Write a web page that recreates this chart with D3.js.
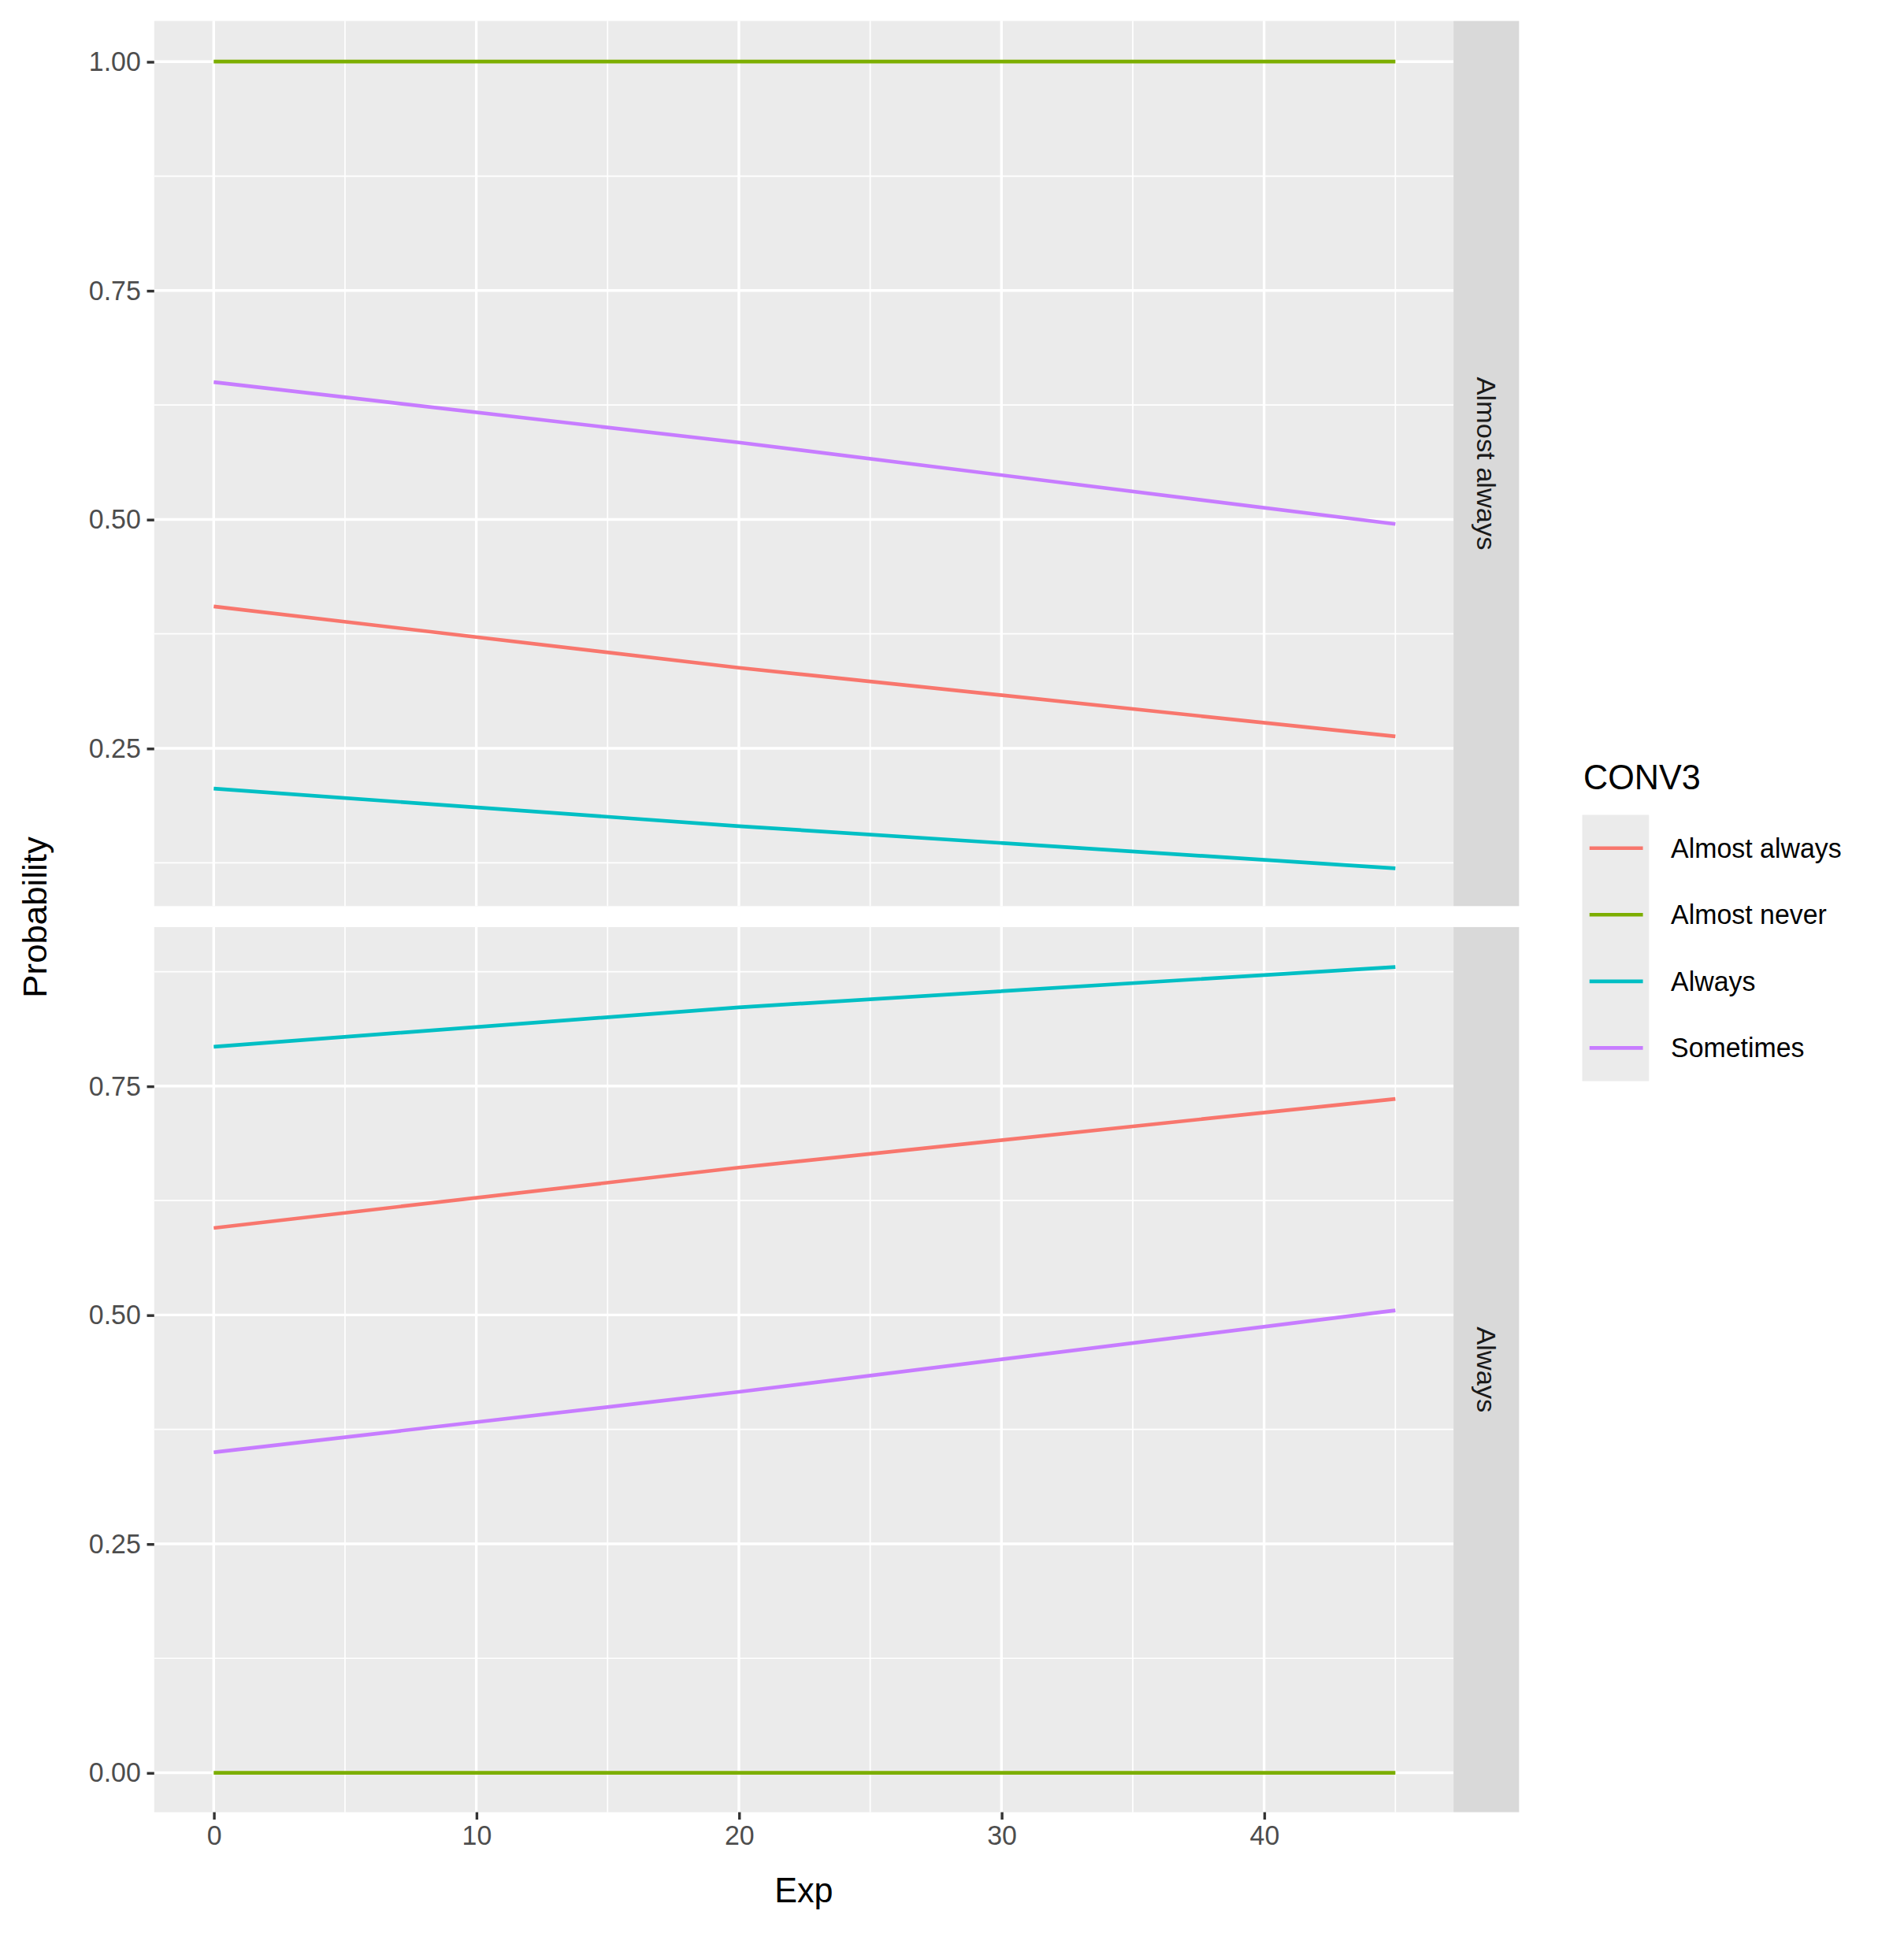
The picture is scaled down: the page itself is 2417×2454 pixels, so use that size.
<!DOCTYPE html>
<html><head><meta charset="utf-8">
<script src="https://cdn.jsdelivr.net/npm/d3@7"></script>
<style>body{margin:0;background:#fff}</style>
</head><body>
<svg id="c" width="2417" height="2454"></svg>
<script>
// data
const categories = ["Almost always", "Almost never", "Always", "Sometimes"]
const colors = ["#F8766D", "#7CAE00", "#00BFC4", "#C77CFF"]
const panels = ["Almost always", "Always"]
const expVals = [0, 20, 45]
// values[panel][category] at expVals
const values = [
    [[0.405, 0.338, 0.263], [1, 1, 1], [0.206, 0.165, 0.119], [0.650, 0.584, 0.495]],
    [[0.595, 0.661, 0.736], [0, 0, 0], [0.793, 0.836, 0.880], [0.350, 0.416, 0.505]]
]
const yDomains = [[0.0777, 1.0444], [-0.0431, 0.9237]]
const yTicks = [[0.25, 0.5, 0.75, 1.0], [0, 0.25, 0.5, 0.75]]
const xTicks = [0, 10, 20, 30, 40]

const sx = 2417 / 1568, sy = 2454 / 1568
const svg = d3.select("#c")
const g = svg.append("g").attr("transform", `scale(${sx},${sy})`)
const font = "Liberation Sans, Arial, sans-serif"

const x = d3.scaleLinear().domain([0, 40]).range([176, 1041])
const panelTop = [17, 752], panelH = 718, left = 127, right = 1197

panels.forEach((p, pi) => {
    const y = d3.scaleLinear().domain(yDomains[pi]).range([panelTop[pi] + panelH, panelTop[pi]])
    const pg = g.append("g")
    pg.append("rect").attr("x", left).attr("y", panelTop[pi]).attr("width", right - left).attr("height", panelH).attr("fill", "#EBEBEB")
    // minor grid
    const yt = yTicks[pi]
    const minorY = yt.slice(0, -1).map((t, i) => (t + yt[i + 1]) / 2).concat([yt[0] - 0.125, yt[yt.length - 1] + 0.125])
        .filter(v => v > yDomains[pi][0] && v < yDomains[pi][1])
    minorY.forEach(v => pg.append("line").attr("x1", left).attr("x2", right).attr("y1", y(v)).attr("y2", y(v)).attr("stroke", "#fff").attr("stroke-width", 1.1))
    ;[5, 15, 25, 35, 45].forEach(v => pg.append("line").attr("x1", x(v)).attr("x2", x(v)).attr("y1", panelTop[pi]).attr("y2", panelTop[pi] + panelH).attr("stroke", "#fff").attr("stroke-width", 1.1))
    yt.forEach(v => pg.append("line").attr("x1", left).attr("x2", right).attr("y1", y(v)).attr("y2", y(v)).attr("stroke", "#fff").attr("stroke-width", 2.2))
    xTicks.forEach(v => pg.append("line").attr("x1", x(v)).attr("x2", x(v)).attr("y1", panelTop[pi]).attr("y2", panelTop[pi] + panelH).attr("stroke", "#fff").attr("stroke-width", 2.2))
    // y axis
    const ax = pg.append("g").attr("transform", `translate(${left},0)`)
        .call(d3.axisLeft(y).tickValues(yt).tickFormat(d3.format(".2f")).tickSize(6).tickPadding(5))
    ax.select(".domain").remove()
    ax.selectAll("line").attr("stroke", "#333").attr("stroke-width", 2.2)
    ax.selectAll("text").attr("fill", "#4D4D4D").style("font-size", "22px").style("font-family", font)
    // lines
    const line = d3.line().x((d, i) => x(expVals[i])).y(d => y(d)).curve(d3.curveMonotoneX)
    values[pi].forEach((vals, ci) => {
        pg.append("path").attr("d", line(vals)).attr("fill", "none").attr("stroke", colors[ci]).attr("stroke-width", 3)
    })
    // strip
    pg.append("rect").attr("x", right).attr("y", panelTop[pi]).attr("width", 54).attr("height", panelH).attr("fill", "#D9D9D9")
    pg.append("text").attr("transform", `translate(${right + 27},${panelTop[pi] + panelH / 2}) rotate(90)`)
        .attr("text-anchor", "middle").attr("dy", "0.35em").attr("fill", "#1A1A1A")
        .style("font-size", "22px").style("font-family", font).text(p)
})

// x axis
const xa = g.append("g").attr("transform", `translate(0,${panelTop[1] + panelH})`)
    .call(d3.axisBottom(x).tickValues(xTicks).tickSize(6).tickPadding(5))
xa.select(".domain").remove()
xa.selectAll("line").attr("stroke", "#333").attr("stroke-width", 2.2)
xa.selectAll("text").attr("fill", "#4D4D4D").style("font-size", "22px").style("font-family", font)

g.append("text").attr("x", 662).attr("y", 1543).attr("text-anchor", "middle").style("font-size", "28px").style("font-family", font).text("Exp")
g.append("text").attr("transform", "translate(38,744) rotate(-90)").attr("text-anchor", "middle").style("font-size", "28px").style("font-family", font).text("Probability")

// legend
const lg = g.append("g")
lg.append("text").attr("x", 1304).attr("y", 640).style("font-size", "28px").style("font-family", font).text("CONV3")
lg.append("rect").attr("x", 1303).attr("y", 661).attr("width", 55).attr("height", 216).attr("fill", "#EBEBEB")
categories.forEach((c, i) => {
    const yy = 688 + i * 54
    lg.append("line").attr("x1", 1309).attr("x2", 1353).attr("y1", yy).attr("y2", yy).attr("stroke", colors[i]).attr("stroke-width", 3)
    lg.append("text").attr("x", 1376).attr("y", yy).attr("dy", "0.35em").style("font-size", "22px").style("font-family", font).text(c)
})
</script>
</body></html>
